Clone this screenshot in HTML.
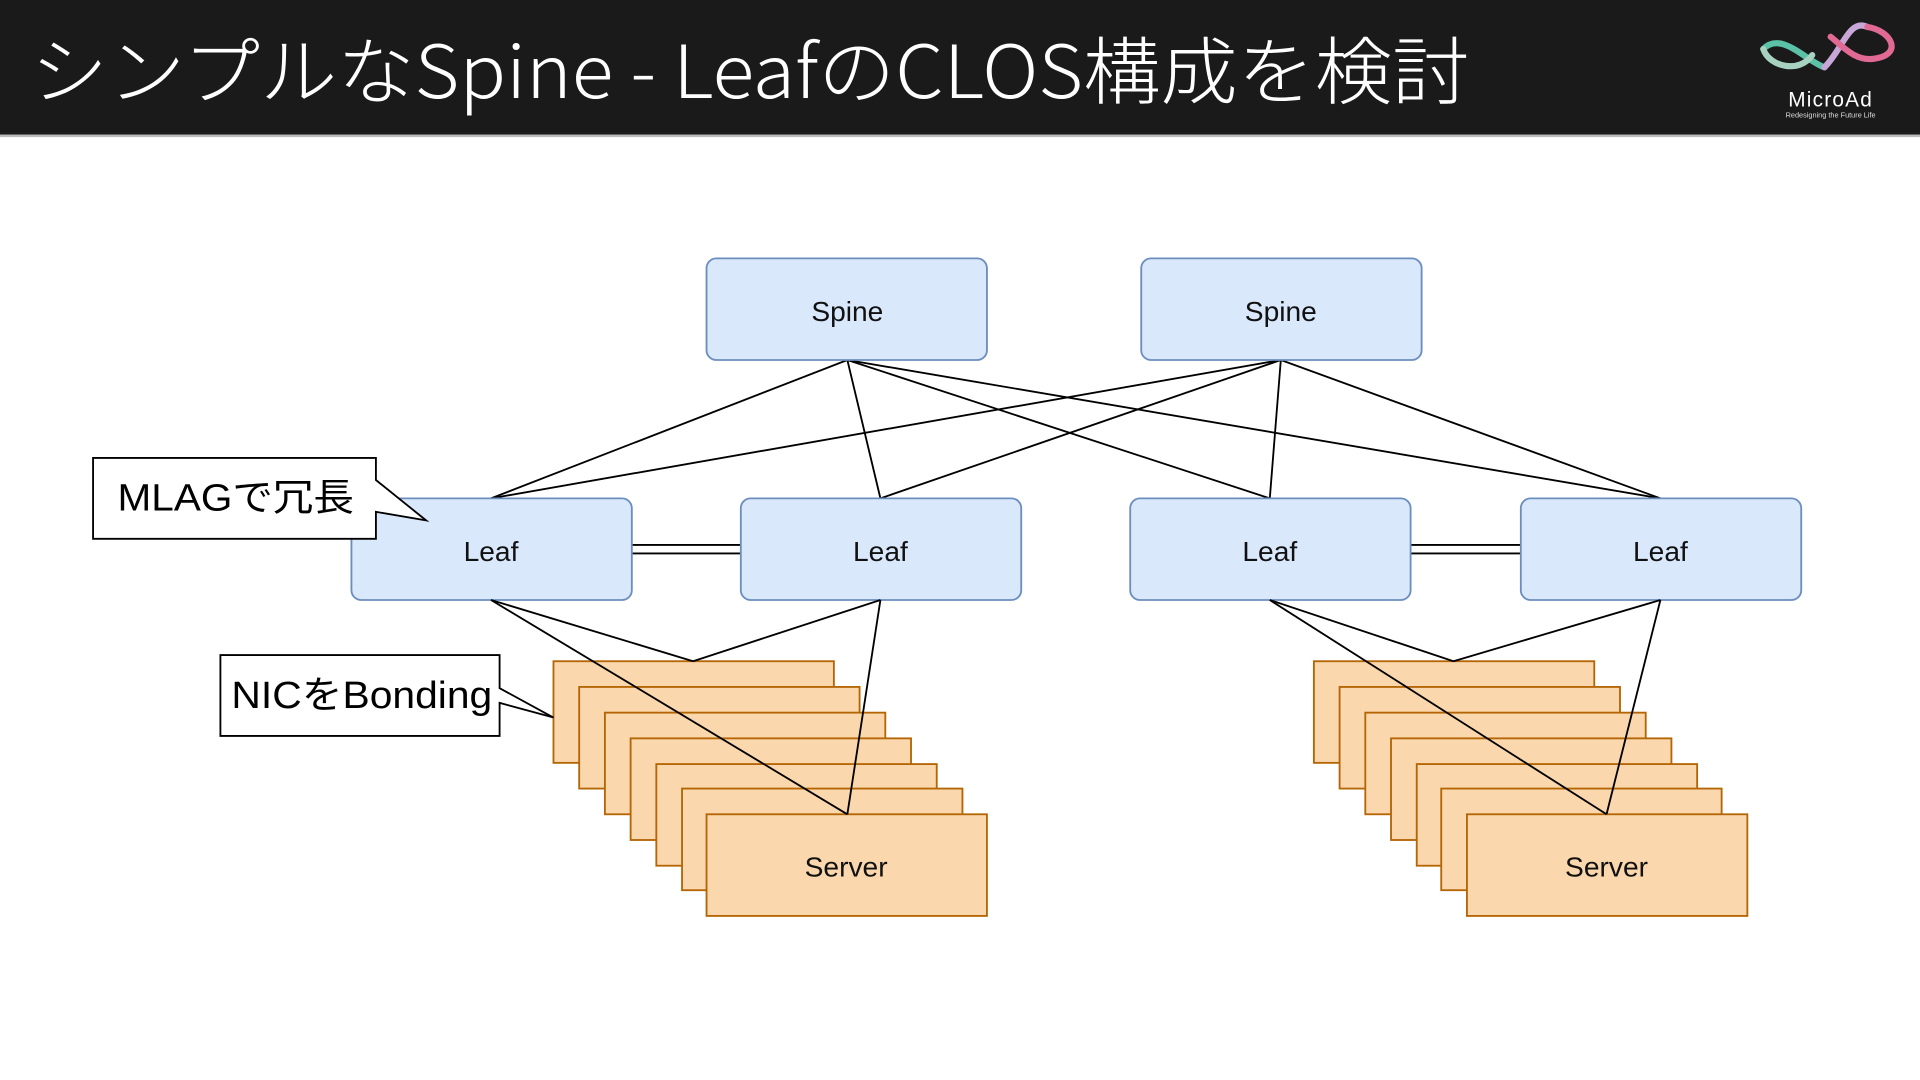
<!DOCTYPE html>
<html><head><meta charset="utf-8"><style>
html,body{margin:0;padding:0;background:#fff;}
svg{display:block}
text{font-family:"Liberation Sans","Noto Sans CJK JP",sans-serif;}
</style></head><body>
<svg width="1920" height="1080" viewBox="0 0 1568 882" preserveAspectRatio="none" xmlns="http://www.w3.org/2000/svg">
<rect x="0" y="0" width="1568" height="882" fill="#fff"/>
<rect x="0" y="0" width="1568" height="110" fill="#1b1a1a"/>
<rect x="0" y="110" width="1568" height="2" fill="#bbb"/>
<text x="25" y="80" font-size="60" fill="#fff" style="font-family:'Noto Sans CJK JP','Liberation Sans',sans-serif" font-weight="300" textLength="1175" lengthAdjust="spacingAndGlyphs">シンプルなSpine - LeafのCLOS構成を検討</text>
<!-- logo -->
<g fill="none" stroke-width="5" stroke-linecap="round">
<path d="M1440 40 C1455 25,1475 50,1490 55" stroke="#5bc2a8"/>
<path d="M1490 55 C1505 40,1510 15,1525 22" stroke="#c9a6d8"/>
<path d="M1525 22 C1545 25,1555 45,1530 48 C1515 50,1505 38,1495 30" stroke="#e06a93"/>
<path d="M1440 40 C1445 55,1470 60,1480 45" stroke="#a7d2c0"/>
</g>
<text x="1495" y="87" font-size="17" fill="#fff" text-anchor="middle" letter-spacing="1">MicroAd</text>
<text x="1495" y="96" font-size="6" fill="#ddd" text-anchor="middle">Redesigning the Future Life</text>

<g stroke="#000" stroke-width="1.5" fill="none">
<line x1="692" y1="294" x2="401" y2="407"/><line x1="692" y1="294" x2="719" y2="407"/>
<line x1="692" y1="294" x2="1037" y2="407"/><line x1="692" y1="294" x2="1356" y2="407"/>
<line x1="1046" y1="294" x2="401" y2="407"/><line x1="1046" y1="294" x2="719" y2="407"/>
<line x1="1046" y1="294" x2="1037" y2="407"/><line x1="1046" y1="294" x2="1356" y2="407"/>
<line x1="516" y1="445" x2="605" y2="445"/><line x1="516" y1="452" x2="605" y2="452"/>
<line x1="1152" y1="445" x2="1242" y2="445"/><line x1="1152" y1="452" x2="1242" y2="452"/>
</g>
<g fill="#dae8fc" stroke="#6c8ebf" stroke-width="1.5">
<rect x="577" y="211" width="229" height="83" rx="8"/>
<rect x="932" y="211" width="229" height="83" rx="8"/>
<rect x="287" y="407" width="229" height="83" rx="8"/>
<rect x="605" y="407" width="229" height="83" rx="8"/>
<rect x="923" y="407" width="229" height="83" rx="8"/>
<rect x="1242" y="407" width="229" height="83" rx="8"/>
</g>
<g font-size="23" text-anchor="middle" fill="#111">
<text x="692" y="262">Spine</text><text x="1046" y="262">Spine</text>
<text x="401" y="458">Leaf</text><text x="719" y="458">Leaf</text>
<text x="1037" y="458">Leaf</text><text x="1356" y="458">Leaf</text>
</g>
<g fill="#fad7ac" stroke="#b46504" stroke-width="1.5">
<rect x="452" y="540" width="229" height="83"/><rect x="473" y="561" width="229" height="83"/>
<rect x="494" y="582" width="229" height="83"/><rect x="515" y="603" width="229" height="83"/>
<rect x="536" y="624" width="229" height="83"/><rect x="557" y="644" width="229" height="83"/>
<rect x="577" y="665" width="229" height="83"/>
<rect x="1073" y="540" width="229" height="83"/><rect x="1094" y="561" width="229" height="83"/>
<rect x="1115" y="582" width="229" height="83"/><rect x="1136" y="603" width="229" height="83"/>
<rect x="1157" y="624" width="229" height="83"/><rect x="1177" y="644" width="229" height="83"/>
<rect x="1198" y="665" width="229" height="83"/>
</g>
<g stroke="#000" stroke-width="1.5" fill="none">
<line x1="401" y1="490" x2="566" y2="540"/><line x1="401" y1="490" x2="692" y2="665"/>
<line x1="719" y1="490" x2="566" y2="540"/><line x1="719" y1="490" x2="692" y2="665"/>
<line x1="1037" y1="490" x2="1187" y2="540"/><line x1="1037" y1="490" x2="1312" y2="665"/>
<line x1="1356" y1="490" x2="1187" y2="540"/><line x1="1356" y1="490" x2="1312" y2="665"/>
</g>
<g font-size="23" text-anchor="middle" fill="#111">
<text x="691" y="716">Server</text><text x="1312" y="716">Server</text>
</g>
<g fill="#fff" stroke="#000" stroke-width="1.5">
<path d="M76 374 H307 V392 L348 425 L307 418 V440 H76 Z"/>
<path d="M180 535 H408 V562 L452 586 L408 574 V601 H180 Z"/>
</g>
<g font-size="31" fill="#000">
<text x="96" y="417" textLength="193" lengthAdjust="spacingAndGlyphs">MLAGで冗長</text>
<text x="189" y="578" textLength="213" lengthAdjust="spacingAndGlyphs">NICをBonding</text>
</g>
</svg>
</body></html>
